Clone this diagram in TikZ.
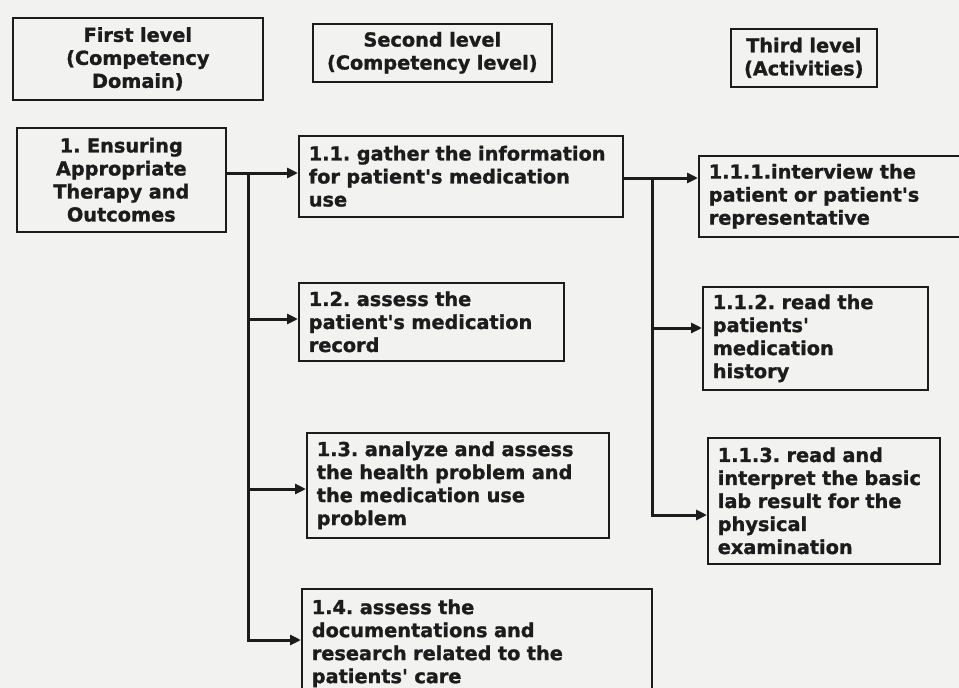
\documentclass[tikz,border=0pt]{standalone}
\usepackage{fontspec}
\setmainfont{DejaVu Sans}[Ligatures=TeXOff, BoldFeatures={FakeBold=1.2}]
\usetikzlibrary{arrows.meta}
\definecolor{paper}{HTML}{F2F2F0}
\definecolor{ink}{HTML}{1C1C1C}
\frenchspacing
\begin{document}
\begin{tikzpicture}[x=1pt,y=-1pt,
  every node/.style={font=\fontsize{19.3}{23}\selectfont\bfseries\frenchspacing, text=ink},
  cell/.style={draw=ink, line width=1.6pt, anchor=north west,
               inner xsep=10pt, inner ysep=0pt, align=left},
  head/.style={draw=ink, line width=1.6pt, anchor=north west,
               inner sep=0pt, align=center},
  conn/.style={draw=ink, line width=3pt},
  arr/.style={conn, -{Triangle[length=11pt,width=10pt]}}]

% page
\useasboundingbox (0,0) rectangle (959,688);
\clip (0,0) rectangle (959,688);
\fill[paper] (0,0) rectangle (959,688);

% column headings
\node[head, text width=250pt, minimum height=82pt] (h1) at (12,17)
  {First level\\(Competency\\Domain)};
\node[head, text width=239pt, minimum height=58pt] (h2) at (312,23)
  {Second level\\(Competency level)};
\node[head, text width=146pt, minimum height=58pt] (h3) at (730,28)
  {Third level\\(Activities)};

% first level
\node[head, text width=209pt, minimum height=104pt] (b1) at (16,127)
  {1. Ensuring\\Appropriate\\Therapy and\\Outcomes};

% second level
\node[cell, text width=304pt, minimum height=81pt] (b11) at (298,135)
  {1.1. gather the information\\for patient's medication\\use};
\node[cell, text width=245pt, minimum height=78pt] (b12) at (298,282)
  {1.2. assess the\\patient's medication\\record};
\node[cell, text width=282pt, minimum height=105pt] (b13) at (306,432)
  {1.3. analyze and assess\\the health problem and\\the medication use\\problem};
\node[cell, text width=330pt, minimum height=109pt] (b14) at (301,588)
  {1.4. assess the\\documentations and\\research related to the\\patients' care};

% third level
\node[cell, text width=260pt, minimum height=81pt] (b111) at (698,155)
  {1.1.1.interview the\\patient or patient's\\representative};
\node[cell, text width=205pt, minimum height=103pt] (b112) at (702,286)
  {1.1.2. read the\\patients'\\medication\\history};
\node[cell, text width=212pt, minimum height=126pt] (b113) at (707,437)
  {1.1.3. read and\\interpret the basic\\lab result for the\\physical\\examination};

% connectors from the competency domain
\coordinate (t1) at (248,173);
\coordinate (j12) at (248,319);
\coordinate (j13) at (248,489);
\coordinate (j14) at (248,640);
\draw[conn] (b1.east |- t1) -- (t1);
\draw[arr] (t1) -- (t1 -| b11.west);
\draw[arr] (t1) -- (j14) -- (j14 -| b14.west);
\draw[arr] (j12) -- (j12 -| b12.west);
\draw[arr] (j13) -- (j13 -| b13.west);

% connectors from competency 1.1
\coordinate (t2) at (652,178);
\coordinate (j112) at (652,328);
\coordinate (j113) at (652,515);
\draw[conn] (b11.east |- t2) -- (t2);
\draw[arr] (t2) -- (t2 -| b111.west);
\draw[arr] (t2) -- (j113) -- (j113 -| b113.west);
\draw[arr] (j112) -- (j112 -| b112.west);
\end{tikzpicture}
\end{document}
